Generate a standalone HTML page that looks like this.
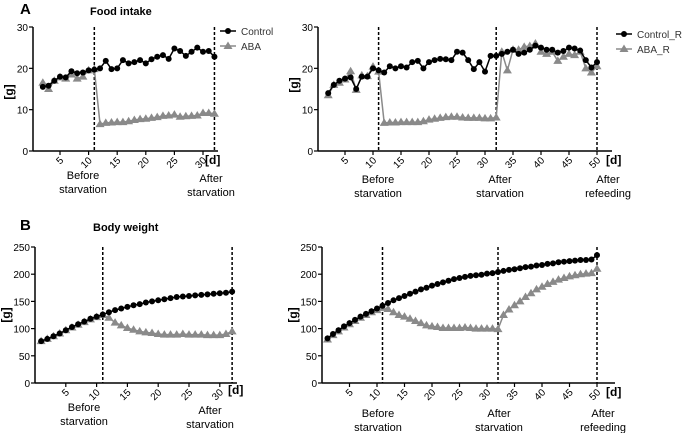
<!DOCTYPE html>
<html><head><meta charset="utf-8"><style>
body{margin:0;background:#fff;}
svg{display:block;font-family:"Liberation Sans",sans-serif;}
</style></head><body>
<svg id="c" width="685" height="433" viewBox="0 0 685 433"></svg>
<script>
// Panel A1 food intake (days 2..32)
const a1Days=[];for(let d=2;d<=32;d++)a1Days.push(d);
const a1Control=[15.5,15.8,17,18,17.8,19.3,18.8,19,19.5,19.7,20,21.8,19.8,20,22,21.2,21.5,22,21.2,22.2,22.8,23.2,22.3,24.8,24.2,23,24,25,24,24.2,22.8];
const a1ABA=[16.5,15,17,17.8,17.5,18.5,17.5,18,19.5,19.8,6.5,6.8,6.9,7,7,7.2,7.5,7.7,7.8,8,8.2,8.5,8.6,8.8,8.3,8.4,8.5,8.6,9.2,9.2,9.0];
// Panel A2 food intake with refeeding (days 2..50)
const a2Days=[];for(let d=2;d<=50;d++)a2Days.push(d);
const a2Control=[14,16,17,17.5,17.8,15,18,18,20,19.5,19,20.5,20,20.5,20.2,21.5,21.8,20,21.5,22,22.3,22.2,22,24,23.8,22,19.8,21.5,19.2,23,23,23.5,24,24.5,23.5,23.8,24.5,25.5,25,24.5,24.5,23.8,24.2,25,24.8,24.3,22,20.2,21.5];
const a2ABA=[13.5,16,16.5,17.3,19.3,14.8,18.3,18.1,20.4,19.2,6.8,6.9,6.9,7,7,7,7,7.2,7.6,7.8,8,8.2,8.3,8.3,8.1,8,8,8,7.9,7.9,8.1,24,19.5,24.5,24.5,25.2,25.4,26,24,23.5,24,21.8,22.8,23.5,23.2,24,20,19,20.5];
// Panel B1 body weight (days 1..32)
const b1Days=[];for(let d=1;d<=32;d++)b1Days.push(d);
const b1Control=[77,81,86,91,97,103,108,113,118,122,126,130,134,137,140,143,145,148,150,152,154,156,158,159,160,161,162,163,164,165,166,168];
const b1ABA=[77,81,86,91,97,102,107,112,117,121,125,120,111,106,101,98,95,93,92,90,89,89,89,90,89,89,89,88,88,88,90,95];
// Panel B2 body weight with refeeding (days 1..50)
const b2Days=[];for(let d=1;d<=50;d++)b2Days.push(d);
const b2Control=[82,90,97,104,110,116,122,127,132,137,142,147,152,156,160,164,168,172,175,179,182,185,188,191,193,195,197,198,199,201,202,204,206,208,209,211,213,214,216,217,219,220,222,223,224,225,226,226,227,235];
const b2ABA=[80,88,95,102,108,114,120,125,130,134,138,136,130,125,122,118,114,110,106,104,103,101,101,101,101,102,101,100,100,100,100,99,125,135,143,150,158,165,172,177,182,186,190,193,196,198,200,201,202,210];
const xTicksA1=[5,10,15,20,25,30], xTicksA2=[5,10,15,20,25,30,35,40,45,50];
const yTicksA=[0,10,20,30], yTicksB=[0,50,100,150,200,250];

const NS="http://www.w3.org/2000/svg";
const svg=document.getElementById('c');
function mk(tag,attrs,parent){const e=document.createElementNS(NS,tag);for(const k in attrs)e.setAttribute(k,attrs[k]);(parent||svg).appendChild(e);return e;}
function txt(x,y,s,size,opts,parent){const t=mk('text',Object.assign({x:x,y:y,'font-size':size,fill:'#000'},opts||{}),parent);t.textContent=s;return t;}

function panel(p){
  const g=mk('g',{});
  
  
  const sx=d=>p.x0+d*p.dx, sy=v=>p.yb-(v/p.ymax)*(p.yb-p.yt);
  const ax=mk('line',{x1:p.ax,y1:p.yt,x2:p.ax,y2:p.yb,stroke:'#000','stroke-width':1.5},g);
  
  const bx=mk('line',{x1:p.ax,y1:p.yb,x2:p.xend,y2:p.yb,stroke:'#000','stroke-width':1.5},g);
  
  p.yticks.forEach(v=>{
    mk('line',{x1:p.ax-4,y1:sy(v),x2:p.ax,y2:sy(v),stroke:'#000','stroke-width':1.2},g);
    const t=txt(p.ax-5,sy(v)+4,String(v),10,{'text-anchor':'end'},g);
    
  });
  p.xticks.forEach(v=>{
    mk('line',{x1:sx(v),y1:p.yb,x2:sx(v),y2:p.yb+4,stroke:'#000','stroke-width':1.2},g);
    const t=txt(sx(v)+4,p.yb+10,String(v),10,{'text-anchor':'end',transform:`rotate(-45 ${sx(v)+4} ${p.yb+10})`},g);
    
  });
  p.vlines.forEach(d=>{
    const l=mk('line',{x1:sx(d),y1:p.yt,x2:sx(d),y2:p.yb,stroke:'#000','stroke-width':1.5,'stroke-dasharray':'3,2'},g);
    
  });
  const dl=txt(p.dlab[0],p.dlab[1],'[d]',12,{'font-weight':'bold'},g);
  
  const yl=txt(p.ylab[0],p.ylab[1],'[g]',12,{'font-weight':'bold','text-anchor':'middle',transform:`rotate(-90 ${p.ylab[0]} ${p.ylab[1]})`},g);
  
  p.phases.forEach(ph=>{
    const a=txt(ph[0],ph[1],ph[2],11,{'text-anchor':'middle'},g);
    
    const b=txt(ph[0],ph[1]+14,ph[3],11,{'text-anchor':'middle'},g);
    
  });
  [[p.aba,'#8a8a8a','tri'],[p.ctrl,'#000','dot']].forEach(([vals,col,m])=>{
    const pts=vals.map((v,i)=>[sx(p.days[i]),sy(v)]);
    const pl=mk('polyline',{points:pts.map(q=>q.join(',')).join(' '),fill:'none',stroke:col,'stroke-width':1.5},g);
    
    pts.forEach(q=>{
      let e;
      if(m==='dot') e=mk('circle',{cx:q[0],cy:q[1],r:3,fill:col},g);
      else e=mk('polygon',{points:`${q[0]},${q[1]-4.5} ${q[0]-4.5},${q[1]+3} ${q[0]+4.5},${q[1]+3}`,fill:col},g);
      
      
    });
  });
}

panel({name:'food-intake-panel',x0:31.4,dx:5.72,ax:33,xend:218,yt:27,yb:151,ymax:30,days:a1Days,ctrl:a1Control,aba:a1ABA,
  yticks:yTicksA,xticks:xTicksA1,vlines:[11,32],dlab:[205,164],ylab:[13,92],
  phases:[[83,179,'Before','starvation'],[211,182,'After','starvation']]});
panel({name:'food-intake-refeeding-panel',x0:317,dx:5.6,ax:318,xend:612,yt:27,yb:151,ymax:30,days:a2Days,ctrl:a2Control,aba:a2ABA,
  yticks:yTicksA,xticks:xTicksA2,vlines:[11,32,50],dlab:[606,164],ylab:[298,85],
  phases:[[378,183,'Before','starvation'],[500,183,'After','starvation'],[608,183,'After','refeeding']]});
panel({name:'body-weight-panel',x0:35,dx:6.16,ax:35,xend:237,yt:247,yb:383,ymax:250,days:b1Days,ctrl:b1Control,aba:b1ABA,
  yticks:yTicksB,xticks:xTicksA1,vlines:[11,32],dlab:[228,394],ylab:[10,315],
  phases:[[84,411,'Before','starvation'],[210,414,'After','starvation']]});
panel({name:'body-weight-refeeding-panel',x0:322,dx:5.5,ax:322,xend:615,yt:247,yb:383,ymax:250,days:b2Days,ctrl:b2Control,aba:b2ABA,
  yticks:yTicksB,xticks:xTicksA2,vlines:[11,32,50],dlab:[606,396],ylab:[297,315],
  phases:[[378,417,'Before','starvation'],[499,417,'After','starvation'],[603,417,'After','refeeding']]});

[[20,14,'A',15],[20,230,'B',15],[90,15,'Food intake',11],[93,231,'Body weight',11]].forEach(t=>{
  const e=txt(t[0],t[1],t[2],t[3],{'font-weight':'bold'});
  
});
function legend(x,y,label,col,m){
  const g=mk('g',{});
  
  
  mk('line',{x1:x,y1:y,x2:x+16,y2:y,stroke:col,'stroke-width':1.5},g);
  if(m==='dot')mk('circle',{cx:x+8,cy:y,r:3,fill:col},g);
  else mk('polygon',{points:`${x+8},${y-4.5} ${x+3.5},${y+3} ${x+12.5},${y+3}`,fill:col},g);
  txt(x+21,y+4,label,10,{fill:'#333'},g);
}
legend(220,31,'Control','#000','dot');
legend(220,46,'ABA','#8a8a8a','tri');
legend(616,34,'Control_R','#000','dot');
legend(616,49,'ABA_R','#8a8a8a','tri');
</script>
</body></html>
